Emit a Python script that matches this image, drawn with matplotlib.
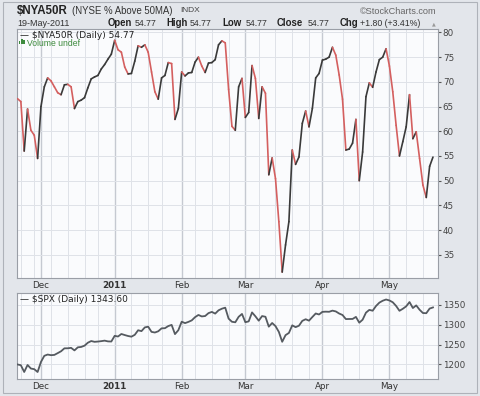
import matplotlib
matplotlib.use("Agg")
import matplotlib.pyplot as plt
from matplotlib.collections import LineCollection
from matplotlib.patches import Rectangle
import numpy as np
import pandas as pd

# ---------------- data ----------------
holidays = ["2010-11-25", "2010-12-24", "2011-01-17", "2011-02-21", "2011-04-22"]
start_date = "2010-11-19"
end_date = "2011-05-19"

nya50r = [66.6, 66.0, 56.0, 64.5, 60.2, 59.2, 54.5, 65.0, 69.0, 70.8,
          70.2, 69.0, 67.8, 67.4, 69.4, 69.5, 69.0, 64.6, 66.0, 66.3,
          66.8, 68.8, 70.6, 71.0, 71.3, 72.6, 73.5, 74.6, 75.6, 78.4,
          76.5, 76.0, 73.0, 71.6, 71.7, 74.2, 77.3, 77.0, 77.5, 76.0,
          72.0, 68.0, 66.5, 70.8, 71.3, 73.9, 73.7, 62.4, 64.6, 72.0,
          71.2, 71.8, 71.9, 74.0, 75.0, 73.2, 71.9, 73.8, 73.9, 74.5,
          77.5, 78.3, 77.9, 68.5, 61.0, 60.2, 69.0, 70.7, 62.8, 63.8,
          73.3, 70.7, 62.6, 69.0, 67.7, 51.2, 54.6, 50.4, 41.7, 31.5,
          37.0, 41.7, 56.2, 53.3, 54.8, 61.6, 64.1, 60.9, 64.6, 70.8,
          71.7, 74.4, 74.6, 75.0, 77.0, 75.4, 71.4, 66.5, 56.2, 56.4,
          57.6, 62.4, 50.0, 55.8, 67.0, 69.8, 68.9, 72.0, 74.5, 75.0,
          76.7, 73.2, 68.0, 61.2, 55.0, 57.9, 60.9, 67.4, 58.5, 59.9,
          54.5, 49.1, 46.6, 52.9, 54.77]

spx = [1199.7, 1197.8, 1180.7, 1198.4, 1189.4, 1187.8, 1180.6,
       1206.1, 1221.5, 1224.7, 1223.1, 1223.8, 1228.3, 1233.0, 1240.4, 1240.5, 1241.6,
       1235.2, 1242.9, 1243.9, 1247.1, 1254.6, 1258.8, 1256.8, 1257.5, 1258.5, 1259.8,
       1257.9, 1257.6,
       1271.9, 1270.2, 1276.6, 1273.9, 1271.5, 1269.8, 1274.5, 1286.0, 1283.8, 1293.2,
       1295.0, 1281.9, 1280.3, 1283.4, 1290.8, 1291.2, 1296.6, 1299.5, 1276.3, 1286.1,
       1307.6, 1304.0, 1307.1, 1310.9, 1319.1, 1324.6, 1320.9, 1321.9, 1329.2, 1332.3,
       1328.0, 1336.3, 1340.4, 1343.0, 1315.4, 1307.4, 1306.1, 1319.9, 1327.2,
       1306.3, 1308.4, 1331.0, 1321.2, 1310.1, 1321.8, 1320.0, 1295.1, 1304.3, 1296.4,
       1281.9, 1256.9, 1273.7, 1279.2, 1298.4, 1293.8, 1297.5, 1309.7, 1313.8, 1310.2,
       1319.4, 1328.3, 1325.8,
       1332.4, 1332.9, 1332.6, 1335.5, 1333.5, 1328.2, 1324.5, 1314.2, 1314.4, 1314.5,
       1319.7, 1305.1, 1312.6, 1330.4, 1337.4, 1335.3, 1347.2, 1355.7, 1360.5, 1363.6,
       1361.2, 1356.6, 1347.3, 1335.1, 1340.2, 1346.3, 1357.2, 1342.1, 1348.7, 1337.8,
       1329.5, 1329.0, 1340.7, 1343.6]

top_yticks = [35, 40, 45, 50, 55, 60, 65, 70, 75, 80]
bot_yticks = [1200, 1250, 1300, 1350]
month_labels = ["Dec", "2011", "Feb", "Mar", "Apr", "May"]

# ---------------- dates / positions ----------------
dates = pd.bdate_range(start_date, end_date)
dates = dates[~dates.isin(pd.to_datetime(holidays))]
n = min(len(dates), len(nya50r), len(spx))
dates = dates[:n]
idx = np.arange(n)
nya = np.array(nya50r[:n])
sp = np.array(spx[:n])

months = dates.to_period("M")
month_pos = [i for i in range(1, n) if months[i] != months[i - 1]]
weeks = dates.to_period("W")
week_pos = [i for i in range(1, n) if weeks[i] != weeks[i - 1]]
week_pos = [w for w in week_pos if all(abs(w - m) > 1 for m in month_pos)]

# ---------------- figure ----------------
W, H = 480, 396
fig = plt.figure(figsize=(W / 100, H / 100), dpi=100)
fig.patch.set_facecolor("#e3e6eb")
fig.patches.append(Rectangle((3 / W, 3 / H), 474 / W, 391 / H, transform=fig.transFigure,
                             fill=False, edgecolor="#aeb2b9", lw=0.8))

def fx(px):
    return px / W

def fy(py):
    return 1 - py / H

ax1 = fig.add_axes([fx(17), fy(278), fx(421), 249 / H])
ax2 = fig.add_axes([fx(17), fy(379), fx(421), 86 / H])

xlim = (-0.15, n + 0.5)

for ax in (ax1, ax2):
    ax.set_facecolor("#fafbfd")
    ax.set_xlim(*xlim)
    for w in week_pos:
        ax.axvline(w, color="#dfe2e8", lw=0.7, zorder=0)
    for m in month_pos:
        ax.axvline(m, color="#c5c9d1", lw=1.0, zorder=0)
    for s in ax.spines.values():
        s.set_color("#9a9ea6")
        s.set_linewidth(0.8)
    ax.yaxis.tick_right()
    ax.tick_params(axis="y", length=2, pad=1.5, colors="#555", labelcolor="#444",
                   labelsize=6.3)
    ax.tick_params(axis="x", length=0, pad=2.5, labelcolor="#333", labelsize=6.3)
    ax.set_xticks(month_pos[:len(month_labels)])
    ax.set_xticklabels(month_labels[:len(month_pos)])
    for lab in ax.get_xticklabels():
        lab.set_family("DejaVu Sans")
        if lab.get_text() == "2011":
            lab.set_fontweight("bold")
    for lab in ax.get_yticklabels():
        lab.set_family("DejaVu Sans")

# top panel
ax1.set_ylim(30.3, 80.7)
ax1.set_yticks(top_yticks)
for t in top_yticks:
    ax1.axhline(t, color="#dfe2e8", lw=0.7, zorder=0)
pts = np.column_stack([idx, nya])
segs = np.stack([pts[:-1], pts[1:]], axis=1)
cols = ["#3a3a3a" if nya[i + 1] >= nya[i] else "#d45f5f" for i in range(n - 1)]
lc = LineCollection(segs, colors=cols, linewidths=1.2, capstyle="round", joinstyle="round",
                    zorder=3)
ax1.add_collection(lc)

ax1.text(0.006, 0.992, "\u2014 $NYA50R (Daily) 54.77", transform=ax1.transAxes,
         ha="left", va="top", fontsize=6.5, family="DejaVu Sans", color="#222", zorder=5)
# small volume icon (three bars)
for k, h in enumerate([0.014, 0.022, 0.018]):
    ax1.add_patch(Rectangle((0.004 + k * 0.0055, 0.938), 0.004, h,
                            transform=ax1.transAxes, color="#3d8a3d", lw=0, zorder=5))
ax1.text(0.024, 0.958, "Volume undef", transform=ax1.transAxes,
         ha="left", va="top", fontsize=6.2, family="Liberation Sans", color="#3d8a3d",
         zorder=5)

# bottom panel
ax2.set_ylim(1163, 1380)
ax2.set_yticks(bot_yticks)
for t in bot_yticks:
    ax2.axhline(t, color="#dfe2e8", lw=0.7, zorder=0)
ax2.plot(idx, sp, color="#555a60", lw=1.3, zorder=3)
ax2.text(0.006, 0.975, "\u2014 $SPX (Daily) 1343.60", transform=ax2.transAxes,
         ha="left", va="top", fontsize=6.5, family="DejaVu Sans", color="#222")

# ---------------- header ----------------
fig.text(fx(17), fy(11), "$NYA50R", fontsize=8.3, fontweight="bold",
         family="Liberation Sans", color="#222", va="center", ha="left")
fig.text(fx(72), fy(11), "(NYSE % Above 50MA)", fontsize=6.9,
         family="Liberation Sans", color="#333", va="center", ha="left")
fig.text(fx(180), fy(11), "INDX", fontsize=6.0,
         family="Liberation Sans", color="#444", va="center", ha="left")
fig.text(fx(437), fy(11), "\u00a9StockCharts.com", fontsize=6.6,
         family="Liberation Sans", color="#666", va="center", ha="right")
fig.text(fx(17), fy(23.5), "19-May-2011", fontsize=6.5,
         family="Liberation Sans", color="#333", va="center", ha="left")

hdr = [(108, "Open", True), (135, "54.77", False), (166, "High", True),
       (190, "54.77", False), (222, "Low", True), (246, "54.77", False),
       (277, "Close", True), (308, "54.77", False), (340, "Chg", True),
       (360, "+1.80 (+3.41%)", False)]
for px, txt, bold in hdr:
    fig.text(fx(px), fy(23.5), txt, fontsize=6.9 if bold else 6.3,
             fontweight="bold" if bold else "normal",
             family="Liberation Sans", color="#222" if bold else "#333",
             va="center", ha="left")
fig.text(fx(432), fy(24), "\u25b2", fontsize=3.5, family="DejaVu Sans",
         color="#999", va="center", ha="left")

fig.savefig("out.png", dpi=100, facecolor=fig.get_facecolor())
